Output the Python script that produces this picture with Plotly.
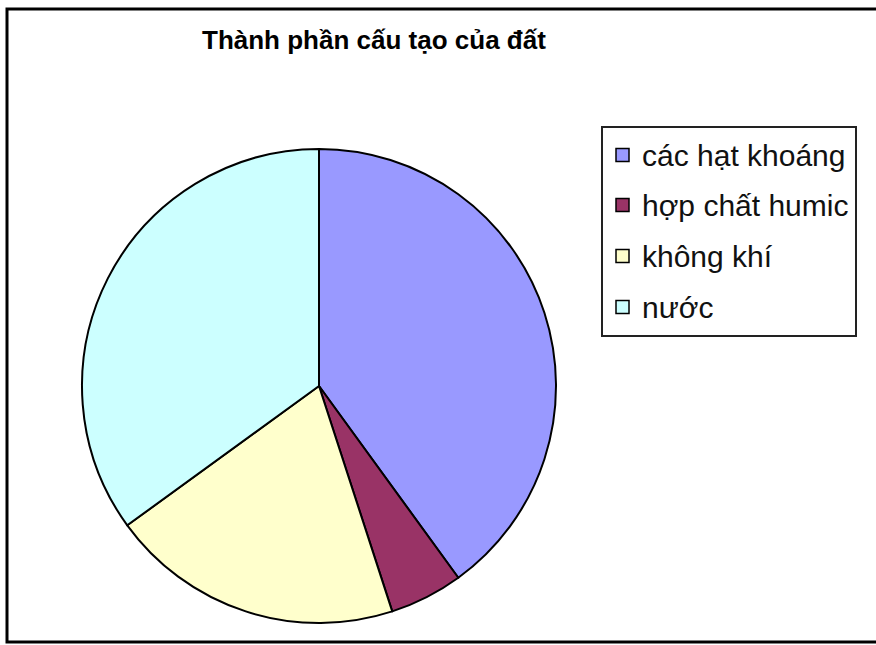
import plotly.graph_objects as go

labels = ["các hạt khoáng", "hợp chất humic", "không khí", "nước"]
values = [40, 5, 20, 35]
colors = ["#9999FF", "#993366", "#FFFFCC", "#CCFFFF"]
title_text = "Thành phần cấu tạo của đất"

W, H = 876, 645

def px(x):
    return x / W

def py(y):
    return 1 - y / H

fig = go.Figure()
fig.add_trace(go.Pie(
    labels=labels,
    values=values,
    sort=False,
    direction="clockwise",
    rotation=0,
    textinfo="none",
    hoverinfo="label+percent",
    marker=dict(colors=colors, line=dict(color="#000000", width=2)),
    domain=dict(x=[px(82), px(556)], y=[py(623), py(149)]),
    showlegend=False,
))

shapes = []
# outer chart frame
shapes.append(dict(type="rect", xref="paper", yref="paper",
                   x0=px(7), x1=px(880), y0=py(642), y1=py(9),
                   line=dict(color="#000000", width=3), fillcolor="rgba(0,0,0,0)"))
# legend box
shapes.append(dict(type="rect", xref="paper", yref="paper",
                   x0=px(602), x1=px(856), y0=py(336), y1=py(127),
                   line=dict(color="#222222", width=2), fillcolor="rgba(0,0,0,0)"))

annotations = [dict(text="<b>" + title_text + "</b>", xref="paper", yref="paper",
                    x=px(374), y=py(40), xanchor="center", yanchor="middle",
                    showarrow=False,
                    font=dict(family="Arial, Liberation Sans, sans-serif",
                              size=26, color="#000000"))]

row_y = [155, 205, 256, 307]
for lab, col, yy in zip(labels, colors, row_y):
    shapes.append(dict(type="rect", xref="paper", yref="paper",
                       x0=px(616), x1=px(629), y0=py(yy + 6.5), y1=py(yy - 6.5),
                       line=dict(color="#000000", width=1.5), fillcolor=col))
    annotations.append(dict(text=lab, xref="paper", yref="paper",
                            x=px(640), y=py(yy), xanchor="left", yanchor="middle",
                            showarrow=False,
                            font=dict(family="Arial, Liberation Sans, sans-serif", size=30, color="#111111")))

fig.update_layout(
    width=W, height=H,
    margin=dict(l=0, r=0, t=0, b=0),
    paper_bgcolor="#FFFFFF",
    plot_bgcolor="#FFFFFF",
    shapes=shapes,
    annotations=annotations,
    showlegend=False,
)

fig.write_html("out.html", config={"displayModeBar": False},
               post_script="document.body.style.margin='0';")
